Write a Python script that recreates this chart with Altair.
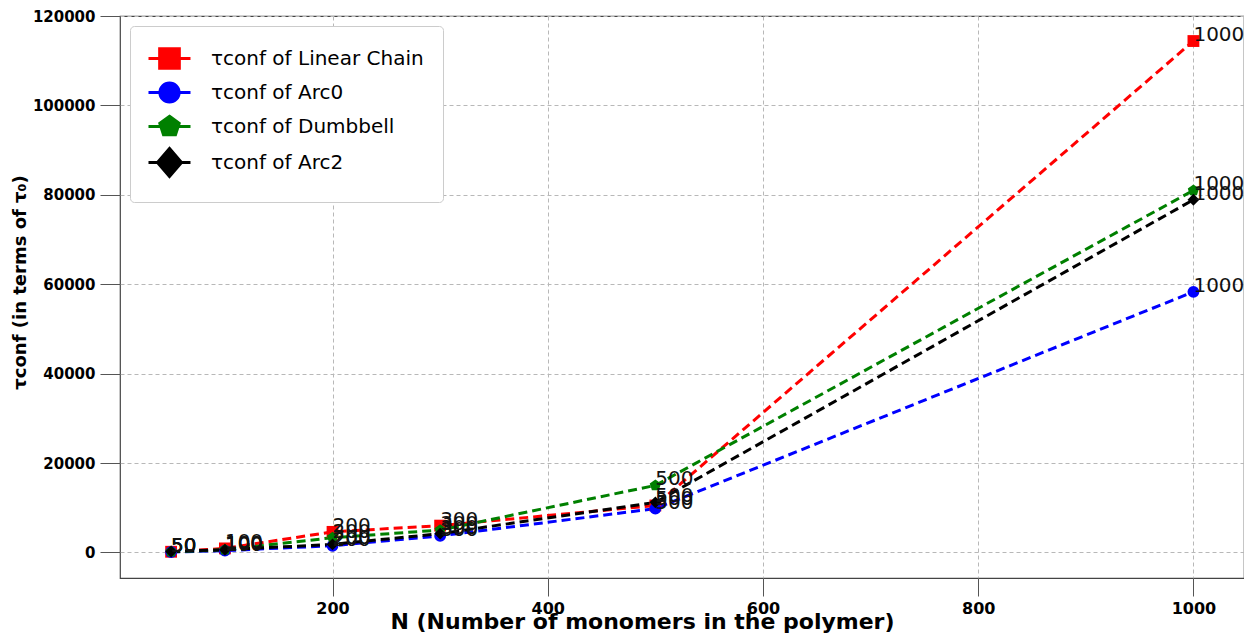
import altair as alt
import pandas as pd

N = [50, 100, 200, 300, 500, 1000]
series_names = ["τconf of Linear Chain", "τconf of Arc0", "τconf of Dumbbell", "τconf of Arc2"]
linear = [150, 900, 4600, 6000, 10500, 114400]
arc0 = [100, 400, 1500, 3700, 9800, 58300]
dumbbell = [150, 600, 3300, 5000, 15000, 81000]
arc2 = [200, 600, 1800, 4200, 11200, 78900]
colors = ["#ff0000", "#0000ff", "#008000", "#000000"]
pentagon = "M0,-1L0.951,-0.309L0.588,0.809L-0.588,0.809L-0.951,-0.309Z"
shapes = ["square", "circle", pentagon, "diamond"]
# legend handles: a short line with the marker in the middle
legend_shapes = [
    "M-1.167,0H-0.237M1.403,0H2.333M-0.237,-0.82H1.403V0.82H-0.237Z",
    "M-1.167,0H-0.217M1.383,0H2.333M1.383,0A0.8,0.8 0 1,1 -0.217,0A0.8,0.8 0 1,1 1.383,0Z",
    "M-1.167,0H-0.178M1.344,0H2.333M0.583,-0.85L1.391,-0.263L1.083,0.688L0.083,0.688L-0.225,-0.263Z",
    "M-1.167,0H-0.417M1.583,0H2.333M0.583,-1.17L1.583,0L0.583,1.17L-0.417,0Z",
]

rows = []
for name, vals in zip(series_names, [linear, arc0, dumbbell, arc2]):
    for n, v in zip(N, vals):
        rows.append({"N": n, "tau": v, "series": name, "line_series": name, "mk": name, "label": str(n)})
df = pd.DataFrame(rows)

xs = alt.Scale(domain=[2.5, 1047], nice=False, zero=False)
ys = alt.Scale(domain=[-5720, 120000], nice=False, zero=False)
cscale = alt.Scale(domain=series_names, range=colors)

x_axis = alt.Axis(values=[200, 400, 600, 800, 1000], title="N (Number of monomers in the polymer)", format="d",
                  labelFont="DejaVu Sans", labelFontWeight="bold", labelFontSize=16,
                  titleFont="DejaVu Sans", titleFontWeight="bold", titleFontSize=22,
                  titleY=50, titleX=522, titleAlign="center", titleBaseline="alphabetic",
                  tickSize=18, tickColor="#555555", labelPadding=4,
                  grid=True, gridDash=[4, 3], gridColor="#b8b8b8", domain=False)
y_axis = alt.Axis(values=[0, 20000, 40000, 60000, 80000, 100000, 120000], title="τconf (in terms of τ₀)",
                  labelFont="DejaVu Sans", labelFontWeight="bold", labelFontSize=15, format="d",
                  titleFont="DejaVu Sans", titleFontWeight="bold", titleFontSize=18,
                  titleY=266, titleAlign="center", tickSize=20, tickColor="#555555",
                  labelPadding=5, titlePadding=3,
                  grid=True, gridDash=[4, 3], gridColor="#b8b8b8", domain=False)

base = alt.Chart(df)

lines = base.mark_line(strokeDash=[9, 5], strokeWidth=3).encode(
    x=alt.X("N:Q", scale=xs, axis=x_axis),
    y=alt.Y("tau:Q", scale=ys, axis=y_axis),
    color=alt.Color("line_series:N", scale=cscale, legend=None),
    detail="line_series:N",
)

points = base.mark_point(filled=True, size=140, opacity=1).encode(
    x=alt.X("N:Q", scale=xs),
    y=alt.Y("tau:Q", scale=ys),
    color=alt.Color("series:N", scale=cscale, legend=None),
    shape=alt.Shape("mk:N", scale=alt.Scale(domain=series_names, range=shapes), legend=None),
)

legend_layer = base.transform_filter("datum.N < 0").mark_point(filled=True, opacity=1).encode(
    x=alt.X("N:Q", scale=xs),
    y=alt.Y("tau:Q", scale=ys),
    fill=alt.Fill("series:N", scale=cscale,
                  legend=alt.Legend(title=None, orient="top-left", offset=10,
                                    labelFont="DejaVu Sans", labelFontSize=20, labelLimit=500,
                                    symbolSize=576, symbolStrokeWidth=3, rowPadding=1,
                                    labelOffset=35, padding=19, fillColor="white",
                                    strokeColor="#cccccc", cornerRadius=4, symbolOpacity=1)),
    stroke=alt.Stroke("series:N", scale=cscale),
    shape=alt.Shape("series:N", scale=alt.Scale(domain=series_names, range=legend_shapes)),
)

texts = base.mark_text(align="left", baseline="alphabetic", fontSize=20, font="DejaVu Sans",
                       color="#111111").encode(
    x=alt.X("N:Q", scale=xs),
    y=alt.Y("tau:Q", scale=ys),
    text="label:N",
)

chart = alt.layer(lines, points, texts, legend_layer).resolve_scale(
    shape="independent", fill="independent", stroke="independent"
).properties(
    width=1124, height=562,
    autosize=alt.AutoSizeParams(type="none"),
    padding={"left": 112, "top": 8, "right": 0, "bottom": 55},
).configure_view(stroke="#444444", strokeWidth=1.2)

chart.save("out.html", embed_options={"renderer": "svg", "actions": False})
